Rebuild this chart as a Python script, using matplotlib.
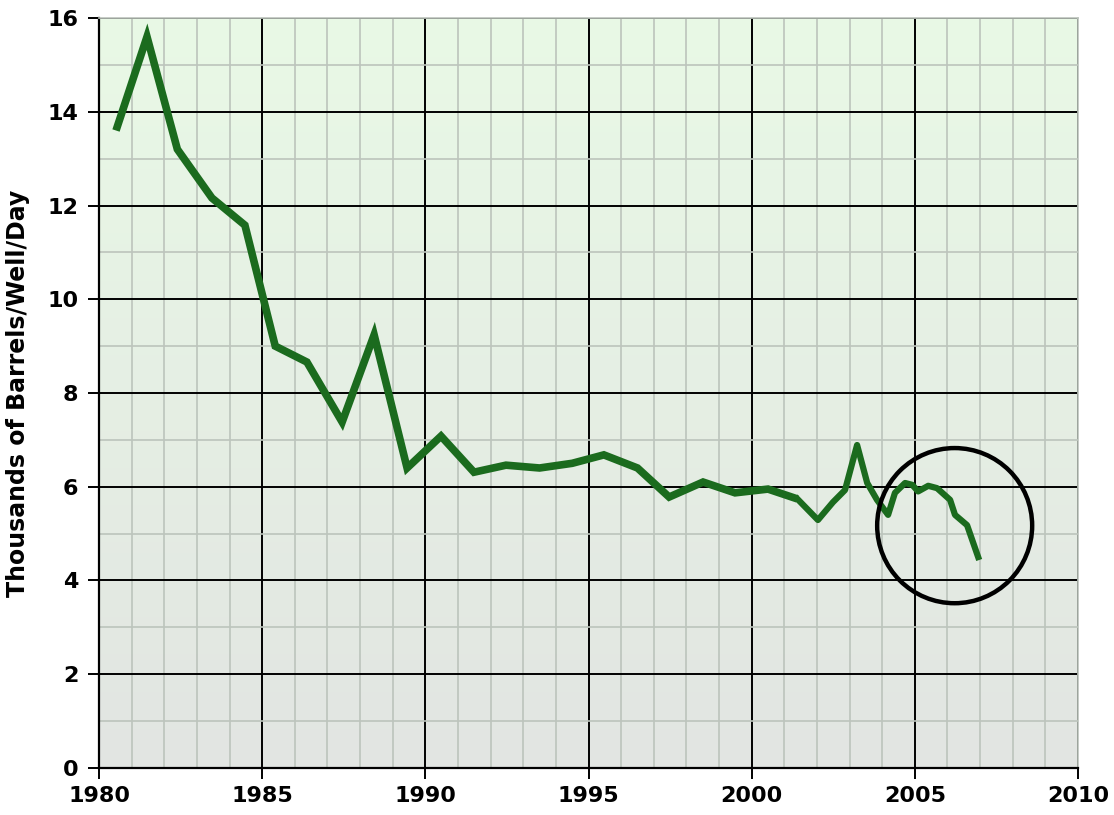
import numpy as np
import matplotlib
matplotlib.use("Agg")
from matplotlib import pyplot as plt
from matplotlib.patches import Ellipse

## data
years = [1980.52, 1981.47, 1982.4, 1983.46, 1984.47, 1985.4, 1986.37, 1987.45,
         1988.43, 1989.44, 1990.48, 1991.49, 1992.47, 1993.5, 1994.5, 1995.47,
         1996.5, 1997.47, 1998.51, 1999.49, 2000.5, 2001.4, 2002.03, 2002.49,
         2002.86, 2003.23, 2003.54, 2003.84, 2004.18, 2004.39, 2004.7, 2004.92,
         2005.1, 2005.41, 2005.68, 2006.08, 2006.23, 2006.6, 2006.94]
barrels = [13.6, 15.6, 13.2, 12.16, 11.58, 9.0, 8.66, 7.38,
           9.24, 6.4, 7.08, 6.31, 6.46, 6.4, 6.5, 6.68,
           6.4, 5.78, 6.1, 5.87, 5.95, 5.74, 5.29, 5.67,
           5.93, 6.89, 6.08, 5.72, 5.4, 5.87, 6.08, 6.04,
           5.9, 6.02, 5.97, 5.72, 5.4, 5.18, 4.5]
x_ticks = [1980, 1985, 1990, 1995, 2000, 2005, 2010]
y_ticks = [0, 2, 4, 6, 8, 10, 12, 14, 16]
ylabel = 'Thousands of Barrels/Well/Day'

# circled region (center year, center value, width in years / height in values)
circle_x, circle_y = 2006.22, 5.17
circle_w, circle_h = 4.75, 3.31

# annual points first, then the monthly tail (drawn a bit thinner)
n_annual = 22

#%%
fig = plt.figure(figsize=(11.14, 8.15), dpi=100)
ax = fig.add_axes([0.0889, 0.0577, 0.8788, 0.9202])

# background gradient: light green on top, grey at bottom
top = np.array([233, 249, 230]) / 255.
bot = np.array([226, 229, 226]) / 255.
t = np.linspace(0, 1, 256)[:, None]
grad = (top * (1 - t) + bot * t)[:, None, :]
ax.imshow(grad, extent=[0, 1, 0, 1], transform=ax.transAxes,
          aspect='auto', zorder=0)

ax.set_xlim(1980, 2010)
ax.set_ylim(0, 16)
ax.set_xticks(x_ticks)
ax.set_yticks(y_ticks)
ax.set_xticks(np.arange(1980, 2011, 1), minor=True)
ax.set_yticks(np.arange(0, 17, 1), minor=True)

ax.grid(True, which='minor', color='#bcc4bc', linewidth=1.2, zorder=1)
ax.grid(True, which='major', color='black', linewidth=1.4, zorder=1)
ax.set_axisbelow(True)

ax.plot(years[:n_annual], barrels[:n_annual], color='#1b6b1e', linewidth=5.5,
        solid_joinstyle='miter', solid_capstyle='butt', zorder=3)
ax.plot(years[n_annual - 1:], barrels[n_annual - 1:], color='#1b6b1e',
        linewidth=4.5, solid_joinstyle='round', zorder=3)

ax.add_patch(Ellipse((circle_x, circle_y), circle_w, circle_h,
                     fill=False, edgecolor='black', linewidth=3.2, zorder=4))

for s in ['left', 'bottom']:
    ax.spines[s].set_color('black')
    ax.spines[s].set_linewidth(1.6)
for s in ['top', 'right']:
    ax.spines[s].set_color('#bcc4bc')
    ax.spines[s].set_linewidth(1.2)

ax.tick_params(which='major', direction='out', length=8, width=1.4,
               labelsize=16, pad=5)
ax.tick_params(axis='y', pad=7)
ax.tick_params(which='minor', length=0)
for lab in ax.get_xticklabels() + ax.get_yticklabels():
    lab.set_fontweight('bold')

ax.set_ylabel(ylabel, fontsize=17, fontweight='bold', labelpad=12)

fig.savefig('out.png', dpi=100)
